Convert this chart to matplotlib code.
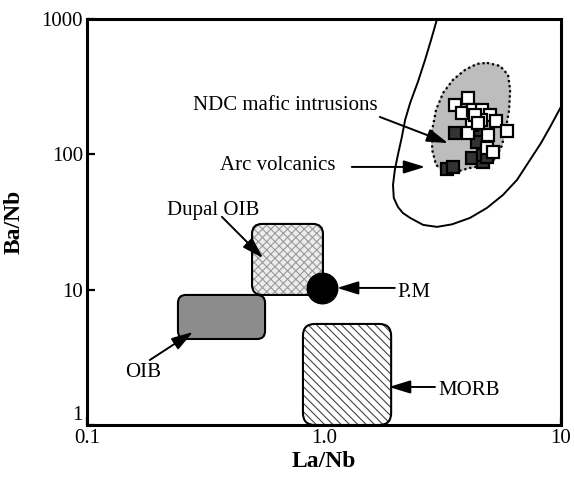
import matplotlib
matplotlib.use("Agg")
import matplotlib.pyplot as plt
from matplotlib.patches import FancyBboxPatch

plt.rcParams['font.family'] = ['Liberation Serif', 'DejaVu Serif']
plt.rcParams['hatch.linewidth'] = 0.8

# NDC mafic intrusions (La/Nb, Ba/Nb)
ndc_white_x = [3.57, 4.05, 3.82, 4.25, 4.64, 5.02, 5.32, 5.92, 4.21, 4.60, 4.92, 4.05, 4.87, 5.16, 4.34, 4.47]
ndc_white_y = [232, 261, 202, 213, 213, 196, 177, 149, 165, 180, 139, 144, 111, 104, 196, 171]
ndc_dark_x = [3.57, 3.30, 3.50, 4.21, 4.69, 4.69, 4.47, 4.42, 4.87]
ndc_dark_y = [144, 78, 81, 94, 88, 99, 147, 124, 96]

# field outlines
ndc_field_x = [4.87, 5.53, 5.98, 6.10, 6.04, 5.86, 5.64, 5.32, 4.87, 4.13, 3.57, 3.24, 2.97, 2.86, 2.86, 2.97, 3.18, 3.50, 3.94, 4.42, 4.87]
ndc_field_y = [474, 450, 386, 299, 213, 157, 117, 94, 83.5, 79.3, 74, 74, 83.5, 108, 151, 213, 284, 355, 421, 466, 474]
arc_x = [3.00, 2.83, 2.67, 2.49, 2.31, 2.20, 2.13, 2.05, 1.99, 1.955, 1.97, 2.05, 2.15, 2.31, 2.62,
         3.00, 3.47, 4.13, 4.87, 5.69, 6.52, 7.40, 8.23, 8.99, 10.1]
arc_y = [1000, 701, 499, 343, 240, 180, 134, 99, 76.7, 59.4, 47.6, 40.9, 36.9, 33.9, 30.1,
         29.1, 30.4, 33.9, 40.2, 50.1, 64.7, 90.9, 121, 159, 232]

# reservoir boxes: (La/Nb min, La/Nb max, Ba/Nb min, Ba/Nb max)
oib_box = (0.242, 0.564, 4.32, 9.14)
dupal_box = (0.497, 0.99, 9.14, 30.6)
morb_box = (0.815, 1.92, 1.0, 5.58)
pm_point = (0.98, 10.3)

fig = plt.figure(figsize=(5.74, 4.83), dpi=100)
ax = fig.add_axes([87 / 574, 58 / 483, 474 / 574, 406 / 483])
ax.set_xscale('log')
ax.set_yscale('log')
ax.set_xlim(0.1, 10)
ax.set_ylim(1, 1000)

bbox = ax.get_window_extent()
to_axes = ax.transData + ax.transAxes.inverted()
aspect = bbox.width / bbox.height


def rounded_box(box, radius_px, **kw):
    (x0, y0), (x1, y1) = to_axes.transform([(box[0], box[2]), (box[1], box[3])])
    r = radius_px / bbox.width
    p = FancyBboxPatch((x0, y0), x1 - x0, y1 - y0,
                       boxstyle=f"round,pad=0,rounding_size={r}",
                       mutation_aspect=aspect, transform=ax.transAxes, **kw)
    ax.add_patch(p)
    return p


# OIB
rounded_box(oib_box, 8, facecolor='#8c8c8c', edgecolor='black', lw=1.5, zorder=2)
# Dupal OIB
rounded_box(dupal_box, 10, facecolor='#ececec', edgecolor='#9a9a9a', hatch='xxxx', lw=0, zorder=2)
rounded_box(dupal_box, 10, facecolor='none', edgecolor='black', lw=1.5, zorder=2)
# MORB
rounded_box(morb_box, 12, facecolor='white', edgecolor='#444444', hatch='\\\\\\\\', lw=0, zorder=2)
rounded_box(morb_box, 12, facecolor='none', edgecolor='black', lw=1.5, zorder=2)

# primitive mantle
ax.plot(*pm_point, 'o', ms=22, color='black', zorder=4)

# arc volcanics and NDC fields
ax.plot(arc_x, arc_y, color='black', lw=1.4, zorder=3, solid_joinstyle='round')
ax.fill(ndc_field_x, ndc_field_y, color='#bdbdbd', zorder=2)
ax.plot(ndc_field_x, ndc_field_y, color='black', lw=1.6, ls=(0, (1, 1.3)), zorder=3)

ax.plot(ndc_dark_x, ndc_dark_y, 's', ms=8.5, mfc='#333333', mec='black', mew=1.6, zorder=5)
ax.plot(ndc_white_x, ndc_white_y, 's', ms=8.5, mfc='white', mec='black', mew=1.6, zorder=6)

arrow = dict(arrowstyle='-|>,head_width=0.2,head_length=0.65', color='black', lw=1.4,
             mutation_scale=20, shrinkA=0, shrinkB=0)
fs = 15
ax.annotate('', xy=(3.34, 121), xytext=(1.72, 189), arrowprops=arrow, zorder=7)
ax.text(0.280, 213, 'NDC mafic intrusions', fontsize=fs, va='baseline')
ax.annotate('', xy=(2.67, 80.7), xytext=(1.31, 80.7), arrowprops=arrow, zorder=7)
ax.text(0.364, 76.7, 'Arc volcanics', fontsize=fs, va='baseline')
ax.annotate('', xy=(0.553, 17.1), xytext=(0.371, 34.5), arrowprops=arrow, zorder=7)
ax.text(0.218, 35.7, 'Dupal OIB', fontsize=fs, va='baseline')
ax.annotate('', xy=(0.280, 4.87), xytext=(0.184, 3.02), arrowprops=arrow, zorder=7)
ax.text(0.145, 2.26, 'OIB', fontsize=fs, va='baseline')
ax.annotate('', xy=(1.135, 10.3), xytext=(1.99, 10.3), arrowprops=arrow, zorder=7)
ax.text(2.03, 8.83, 'P.M', fontsize=fs, va='baseline')
ax.annotate('', xy=(1.88, 1.91), xytext=(2.94, 1.91), arrowprops=arrow, zorder=7)
ax.text(3.03, 1.67, 'MORB', fontsize=fs, va='baseline')

# axes styling
ax.minorticks_off()
ax.set_xticks([0.1, 1, 10])
ax.set_xticklabels(['0.1', '1.0', '10'], fontsize=fs)
ax.set_yticks([1, 10, 100, 1000])
ax.set_yticklabels(['1', '10', '100', '1000'], fontsize=fs)
ax.get_yticklabels()[0].set_va('bottom')
ax.tick_params(direction='in', length=6, width=1.6, pad=3)
for s in ax.spines.values():
    s.set_linewidth(2.2)
    s.set_zorder(8)
ax.set_xlabel('La/Nb', fontsize=17, fontweight='bold', labelpad=2)
ax.set_ylabel('Ba/Nb', fontsize=17, fontweight='bold', labelpad=12)

fig.savefig('out.png', dpi=100)
